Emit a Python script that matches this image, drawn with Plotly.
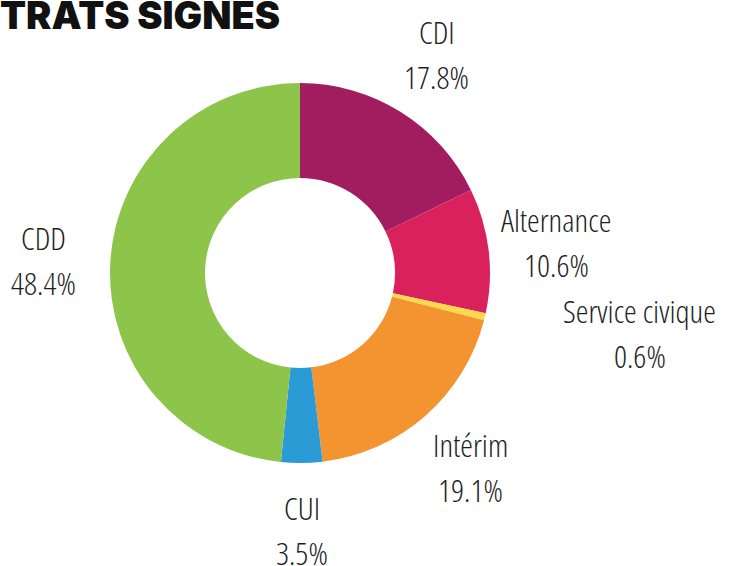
import math
import plotly.graph_objects as go

labels = ["CDI", "Alternance", "Service civique", "Intérim", "CUI", "CDD"]
values = [17.8, 10.6, 0.6, 19.1, 3.5, 48.4]
colors = ["#A21D5F", "#D9215D", "#FDD84A", "#F39431", "#2A9BD5", "#8DC44A"]
title_text = "TRATS SIGNES"

W, H = 730, 566
cx, cy, R = 300, 273, 190
label_r = [258, 258, 345, 258, 257, 257]
label_turn = [0, 0, -3.3, 0, 0, 0]  # degrees

fig = go.Figure(go.Pie(
    labels=labels,
    values=values,
    hole=0.5,
    sort=False,
    direction="clockwise",
    rotation=0,
    marker=dict(colors=colors, line=dict(width=0)),
    textinfo="none",
    hoverinfo="label+percent",
    domain=dict(x=[(cx - R) / W, (cx + R) / W], y=[(H - cy - R) / H, (H - cy + R) / H]),
    showlegend=False,
))

label_font = dict(size=32, color="#1f1f1f", family="Open Sans", weight=330)
total = sum(values)
cum = 0.0
for lab, val, r, turn in zip(labels, values, label_r, label_turn):
    mid = (cum + val / 2) / total * 2 * math.pi + math.radians(turn)
    cum += val
    px = cx + r * math.sin(mid)
    py = cy - r * math.cos(mid)
    for text, dy in ((lab, -22.5), (f"{val:.1f}%", 22.5)):
        fig.add_annotation(
            text=f'<span style="font-stretch:80%">{text}</span>',
            x=px / W, y=1 - (py + dy) / H, xref="paper", yref="paper",
            xanchor="center", yanchor="middle", showarrow=False,
            font=label_font,
        )

fig.add_annotation(
    text=title_text, x=0, y=1, xref="paper", yref="paper",
    xanchor="left", yanchor="top", showarrow=False, xshift=-2, yshift=10,
    font=dict(family="Inter", size=38, color="#111111", weight=900),
)

fig.update_layout(
    width=W, height=H,
    margin=dict(l=0, r=0, t=0, b=0),
    paper_bgcolor="white",
)

fig.write_html("out.html", config={"displayModeBar": False},
               post_script="document.body.style.margin='0';")
